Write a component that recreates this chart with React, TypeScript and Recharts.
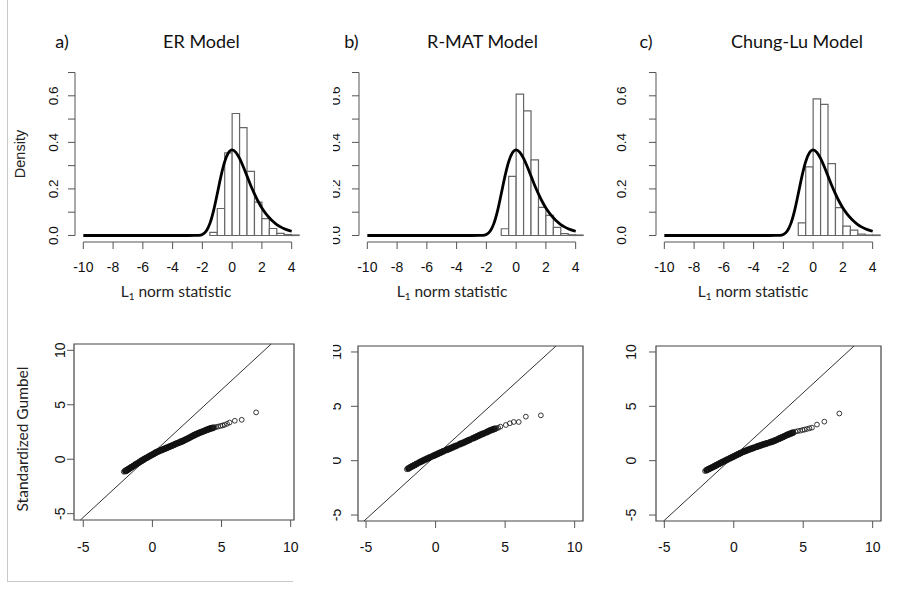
import React from "react";
import {
  ComposedChart,
  ScatterChart,
  Line,
  Scatter,
  XAxis,
  YAxis,
  ReferenceArea,
  ReferenceLine,
} from "recharts";

const SANS = "'Liberation Sans', Arial, sans-serif";
const CAL = "Lato, 'Open Sans', sans-serif";

// histogram bins (left edges, width 0.5)
const binStarts = [-1.5, -1, -0.5, 0, 0.5, 1, 1.5, 2, 2.5, 3, 3.5, 4];
const erHist = [0.013, 0.116, 0.355, 0.524, 0.463, 0.275, 0.143, 0.072, 0.03, 0.009, 0.004, 0.002];
const rmatHist = [0, 0.029, 0.254, 0.607, 0.535, 0.325, 0.121, 0.086, 0.035, 0.008, 0.003, 0.002];
const chungHist = [0, 0.054, 0.295, 0.587, 0.563, 0.309, 0.12, 0.04, 0.023, 0.006, 0.002, 0.002];

// fitted density curve (same in all three panels)
const curveX = [-10, -3, -2.5, -2.25, -2, -1.75, -1.5, -1.25, -1, -0.75, -0.5, -0.25, 0, 0.25, 0.5, 0.75, 1, 1.25, 1.5, 1.75, 2, 2.25, 2.5, 2.75, 3, 3.25, 3.5, 3.75, 4];
const curveY = [0, 0, 0.0001, 0.0007, 0.0046, 0.018, 0.051, 0.106, 0.179, 0.255, 0.317, 0.355, 0.368, 0.357, 0.331, 0.295, 0.255, 0.215, 0.179, 0.146, 0.118, 0.095, 0.076, 0.06, 0.047, 0.037, 0.029, 0.023, 0.018];

const histXTicks = [-10, -8, -6, -4, -2, 0, 2, 4];
const histYTicks = [0, 0.1, 0.2, 0.3, 0.4, 0.5, 0.6, 0.7];
const histYLabels = [0, 0.2, 0.4, 0.6];
const qqTicks = [-5, 0, 5, 10];

// QQ points: [empirical, standardized Gumbel]; band = the dense run, tail = separate circles
const qqERBand = [
  [-1.95, -1.08], [-1.85, -1.02], [-1.75, -0.93], [-1.63, -0.83], [-1.5, -0.72],
  [-1.35, -0.6], [-1.2, -0.47], [-1.05, -0.36], [-0.9, -0.24], [-0.78, -0.14], [-0.68, -0.06],
  [-0.55, 0.04], [-0.4, 0.14], [-0.25, 0.26], [-0.1, 0.36], [0.05, 0.46], [0.18, 0.56],
  [0.29, 0.64], [0.42, 0.71], [0.56, 0.79], [0.7, 0.86], [0.84, 0.94], [0.97, 1.01],
  [1.1, 1.08], [1.25, 1.16], [1.4, 1.24], [1.55, 1.32], [1.7, 1.41], [1.85, 1.49],
  [2.0, 1.57], [2.1, 1.62], [2.21, 1.68], [2.35, 1.77], [2.5, 1.86], [2.65, 1.96],
  [2.8, 2.06], [2.95, 2.16], [3.05, 2.22], [3.17, 2.3], [3.3, 2.37], [3.45, 2.45],
  [3.6, 2.52], [3.75, 2.6], [3.9, 2.68], [4.02, 2.74], [4.13, 2.79], [4.25, 2.84], [4.38, 2.88],
];
const qqERTail = [
  [-2.07, -1.15], [4.5, 2.92], [4.6, 2.95], [4.75, 3.0], [4.93, 3.06], [5.08, 3.1],
  [5.22, 3.16], [5.4, 3.25], [5.58, 3.37], [5.96, 3.53], [6.46, 3.62], [7.5, 4.3],
];
const qqRMATBand = [
  [-1.95, -0.71], [-1.8, -0.6], [-1.65, -0.5], [-1.5, -0.4], [-1.35, -0.29],
  [-1.15, -0.15], [-1.0, -0.06], [-0.85, 0.04], [-0.7, 0.13], [-0.55, 0.22], [-0.4, 0.31],
  [-0.19, 0.43], [-0.05, 0.51], [0.1, 0.6], [0.25, 0.69], [0.4, 0.77], [0.55, 0.86],
  [0.77, 0.98], [0.9, 1.05], [1.05, 1.13], [1.2, 1.21], [1.35, 1.3], [1.5, 1.38],
  [1.73, 1.51], [1.85, 1.58], [2.0, 1.66], [2.15, 1.75], [2.3, 1.84], [2.45, 1.92],
  [2.69, 2.06], [2.85, 2.15], [3.0, 2.24], [3.15, 2.33], [3.3, 2.42], [3.45, 2.5],
  [3.66, 2.61], [3.8, 2.7], [3.95, 2.79], [4.1, 2.86], [4.25, 2.93],
];
const qqRMATTail = [
  [-2.07, -0.79], [4.38, 2.98], [4.5, 3.02], [4.66, 3.13], [5.05, 3.28], [5.34, 3.44],
  [5.62, 3.56], [5.98, 3.56], [6.49, 4.05], [7.57, 4.17],
];
const qqChungBand = [
  [-1.95, -0.87], [-1.8, -0.77], [-1.65, -0.68], [-1.5, -0.58], [-1.35, -0.48],
  [-1.23, -0.4], [-1.08, -0.3], [-0.93, -0.2], [-0.78, -0.1], [-0.6, 0.01], [-0.45, 0.11],
  [-0.27, 0.22], [-0.12, 0.32], [0.03, 0.41], [0.2, 0.52], [0.35, 0.61], [0.5, 0.71],
  [0.7, 0.83], [0.85, 0.9], [1.0, 0.98], [1.15, 1.05], [1.3, 1.12], [1.45, 1.19],
  [1.66, 1.29], [1.8, 1.35], [1.95, 1.41], [2.1, 1.48], [2.25, 1.54], [2.4, 1.6],
  [2.62, 1.69], [2.75, 1.75], [2.9, 1.82], [3.05, 1.9], [3.22, 2.0], [3.35, 2.08],
  [3.5, 2.16], [3.65, 2.25], [3.83, 2.36], [3.95, 2.42], [4.1, 2.5], [4.25, 2.58],
];
const qqChungTail = [
  [-2.07, -0.95], [4.43, 2.67], [4.6, 2.72], [4.78, 2.76], [4.95, 2.82], [5.1, 2.86],
  [5.27, 2.92], [5.45, 2.98], [5.63, 3.04], [5.99, 3.32], [6.52, 3.59], [7.6, 4.34],
];
// reference line endpoints for each QQ plot
const refER = [[-5.21, -5.58], [8.59, 10.58]];
const refRMAT = [[-5.15, -5.55], [8.66, 10.55]];
const refChung = [[-5.05, -5.55], [8.66, 10.55]];

const curveData = curveX.map((x, i) => ({ x, d: curveY[i] }));
const toXY = (pts: number[][]) => pts.map((p) => ({ x: p[0], y: p[1] }));

function YTick(props: any) {
  const { x, y, payload, off, labels, digits, clipId, clipFrom, fs } = props;
  const v = payload.value;
  if (!labels.includes(v)) return null;
  const axisX = x + 7;
  const cx = axisX - off;
  const text = (
    <text x={cx} y={y} transform={`rotate(-90 ${cx} ${y})`} textAnchor="middle" dominantBaseline="central" fontSize={fs} fontFamily={SANS} fill="#111">
      {v.toFixed(digits)}
    </text>
  );
  if (clipFrom === undefined) return text;
  const id = `${clipId}-${String(v).replace(".", "p").replace("-", "m")}`;
  return (
    <g>
      <defs>
        <clipPath id={id}>
          <rect x={axisX - clipFrom} y={y - 30} width={clipFrom - 4} height={60} />
        </clipPath>
      </defs>
      <g clipPath={`url(#${id})`}>{text}</g>
    </g>
  );
}

function XTick(props: any) {
  const { x, y, payload, dy, fs } = props;
  return (
    <text x={x} y={y + dy} textAnchor="middle" dominantBaseline="central" fontSize={fs} fontFamily={SANS} fill="#111">
      {payload.value}
    </text>
  );
}

function HistPanel({ id, left, hist, off, clipFrom }: { id: string; left: number; hist: number[]; off: number; clipFrom?: number }) {
  const xDom = [-10.56, 4.56];
  const yDom = [-0.028, 0.728];
  return (
    <div style={{ position: "absolute", left: left - 60, top: 56 }}>
      <ComposedChart width={295} height={226} data={curveData} margin={{ top: 10, right: 10, bottom: 0, left: 0 }}>
        <XAxis type="number" dataKey="x" domain={xDom} ticks={histXTicks} interval={0} allowDataOverflow axisLine={false}
          tickSize={7} tickMargin={0} tickLine={{ stroke: "#555" }} height={40}
          tick={(p: any) => <XTick {...p} dy={17.5} fs={14} />} />
        <YAxis type="number" domain={yDom} ticks={histYTicks} interval={0} allowDataOverflow axisLine={false}
          tickSize={7} tickMargin={0} tickLine={{ stroke: "#555" }} width={60}
          tick={(p: any) => <YTick {...p} off={off} labels={histYLabels} digits={1} fs={13.5} clipId={id} clipFrom={clipFrom} />} />
        {binStarts.map((b, i) =>
          hist[i] > 0 ? (
            <ReferenceArea key={b} x1={b} x2={b + 0.5} y1={0} y2={hist[i]} fill="#fff" fillOpacity={1}
              stroke="#666" strokeWidth={1.2} ifOverflow="visible" />
          ) : null
        )}
        <ReferenceLine segment={[{ x: -10, y: yDom[0] }, { x: 4, y: yDom[0] }]} stroke="#555" ifOverflow="visible" />
        <ReferenceLine segment={[{ x: xDom[0], y: 0 }, { x: xDom[0], y: 0.7 }]} stroke="#555" ifOverflow="visible" />
        <Line type="monotone" dataKey="d" stroke="#000" strokeWidth={2.8} dot={false} isAnimationActive={false} />
      </ComposedChart>
    </div>
  );
}

function QQPanel({ id, left, top, w, h, xDom, yDom, band, tail, refPts, off, clipFrom, dy }: any) {
  return (
    <div style={{ position: "absolute", left: left - 60, top: top - 10 }}>
      <ScatterChart width={w + 70} height={h + 50} margin={{ top: 10, right: 10, bottom: 0, left: 0 }}>
        <XAxis type="number" dataKey="x" domain={xDom} ticks={qqTicks} interval={0} allowDataOverflow axisLine={false}
          tickSize={7} tickMargin={0} tickLine={{ stroke: "#555" }} height={40}
          tick={(p: any) => <XTick {...p} dy={dy} fs={14} />} />
        <YAxis type="number" dataKey="y" domain={yDom} ticks={qqTicks} interval={0} allowDataOverflow axisLine={false}
          tickSize={7} tickMargin={0} tickLine={{ stroke: "#555" }} width={60}
          tick={(p: any) => <YTick {...p} off={off} labels={qqTicks} digits={0} fs={14} clipId={id} clipFrom={clipFrom} />} />
        <ReferenceArea x1={xDom[0]} x2={xDom[1]} y1={yDom[0]} y2={yDom[1]} fill="none" stroke="#444" strokeWidth={1.2} ifOverflow="visible" />
        <ReferenceLine segment={[{ x: refPts[0][0], y: refPts[0][1] }, { x: refPts[1][0], y: refPts[1][1] }]} stroke="#333" strokeWidth={1} ifOverflow="visible" />
        <Scatter data={toXY(band)} isAnimationActive={false}
          shape={(p: any) => <circle cx={p.cx} cy={p.cy} r={3} fill="#111" stroke="#111" strokeWidth={0.8} />} />
        <Scatter data={toXY(tail)} isAnimationActive={false}
          shape={(p: any) => <circle cx={p.cx} cy={p.cy} r={2.4} fill="none" stroke="#222" strokeWidth={0.9} />} />
      </ScatterChart>
    </div>
  );
}

function NormLabel({ cx }: { cx: number }) {
  return (
    <text x={cx} y={297} textAnchor="middle" fontFamily={CAL} fontSize={15.5} fill="#222">
      L<tspan dy={3} fontSize={10}>1</tspan>
      <tspan dy={-3}>{"  norm statistic"}</tspan>
    </text>
  );
}

export default function App() {
  return (
    <div style={{ position: "absolute", left: 0, top: 0, width: 902, height: 604, background: "#fff", overflow: "hidden" }}>
      <HistPanel id="ha" left={75} hist={erHist} off={21.8} />
      <HistPanel id="hb" left={359} hist={rmatHist} off={23} clipFrom={26} />
      <HistPanel id="hc" left={656} hist={chungHist} off={34} />
      <QQPanel id="qa" left={74} top={344} w={220} h={176} xDom={[-5.67, 10.24]} yDom={[-5.58, 10.58]} band={qqERBand} tail={qqERTail} refPts={refER} off={14} dy={19.5} />
      <QQPanel id="qb" left={358} top={346} w={225} h={175} xDom={[-5.58, 10.6]} yDom={[-5.55, 10.55]} band={qqRMATBand} tail={qqRMATTail} refPts={refRMAT} off={22} clipFrom={25} dy={18.7} />
      <QQPanel id="qc" left={656} top={346} w={225} h={175} xDom={[-5.6, 10.6]} yDom={[-5.55, 10.55]} band={qqChungBand} tail={qqChungTail} refPts={refChung} off={24.5} dy={18.7} />
      <svg width={902} height={604} style={{ position: "absolute", left: 0, top: 0, pointerEvents: "none" }}>
        <line x1={7.5} y1={0} x2={7.5} y2={581.5} stroke="#c8c8c8" strokeWidth={1} />
        <line x1={7} y1={581.5} x2={293} y2={581.5} stroke="#c8c8c8" strokeWidth={1} />
        <text x={62} y={48} textAnchor="middle" fontFamily={CAL} fontSize={18} fill="#111">a)</text>
        <text x={201.5} y={48} textAnchor="middle" fontFamily={CAL} fontSize={18} fill="#111">ER Model</text>
        <text x={351.5} y={48} textAnchor="middle" fontFamily={CAL} fontSize={18} fill="#111">b)</text>
        <text x={482.5} y={48} textAnchor="middle" fontFamily={CAL} fontSize={18} fill="#111">R-MAT Model</text>
        <text x={646} y={48} textAnchor="middle" fontFamily={CAL} fontSize={18} fill="#111">c)</text>
        <text x={797} y={48} textAnchor="middle" fontFamily={CAL} fontSize={18} fill="#111">Chung-Lu Model</text>
        <text x={19.5} y={154} transform="rotate(-90 19.5 154)" textAnchor="middle" dominantBaseline="central" fontFamily={SANS} fontSize={14.5} fill="#222">Density</text>
        <text x={22} y={439} transform="rotate(-90 22 439)" textAnchor="middle" dominantBaseline="central" fontFamily={CAL} fontSize={15.5} fill="#222">Standardized Gumbel</text>
        <NormLabel cx={176} />
        <NormLabel cx={452} />
        <NormLabel cx={753} />
      </svg>
    </div>
  );
}
